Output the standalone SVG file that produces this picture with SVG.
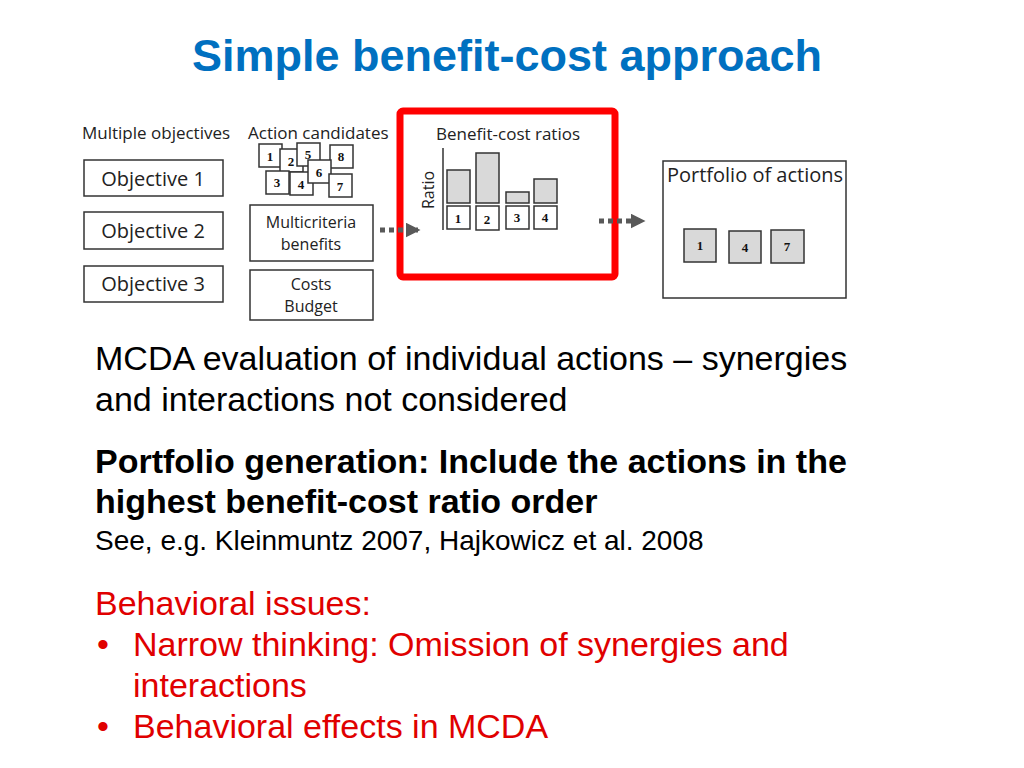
<svg xmlns="http://www.w3.org/2000/svg" width="1024" height="768" viewBox="0 0 1024 768">
<style>
.b{fill:#fff;stroke:#333;stroke-width:1.5}
.g{fill:#d9d9d9;stroke:#333;stroke-width:1.5}
.c{font-family:"Open Sans","Liberation Sans",sans-serif;fill:#222}
.n{font-family:"Liberation Serif",serif;font-weight:bold;font-size:13px;fill:#111;text-anchor:middle}
.t{font-family:"Liberation Sans",Arial,sans-serif;font-size:34px;fill:#000}
.r{fill:#e00000}
</style>
<defs><marker id="ah" markerWidth="3" markerHeight="3" refX="2.5" refY="1.5" orient="auto"><path d="M0,0L3,1.5L0,3z" fill="#595959"/></marker></defs>
<rect width="1024" height="768" fill="#fff"/>
<text x="507" y="71" font-family="Liberation Sans,Arial,sans-serif" font-weight="bold" font-size="45" fill="#0070c0" text-anchor="middle">Simple benefit-cost approach</text>
<g id="objectives">
<text class="c" x="82" y="139" font-size="17">Multiple objectives</text>
<rect class="b" x="84" y="160" width="139" height="36"/><text class="c" x="153" y="186" font-size="20" text-anchor="middle">Objective 1</text>
<rect class="b" x="84" y="212" width="139" height="37"/><text class="c" x="153" y="238" font-size="20" text-anchor="middle">Objective 2</text>
<rect class="b" x="84" y="266" width="139" height="36"/><text class="c" x="153" y="291" font-size="20" text-anchor="middle">Objective 3</text>
</g>
<g id="candidates">
<text class="c" x="248" y="139" font-size="17">Action candidates</text>
<rect class="b" x="259" y="144" width="23" height="23"/><text class="n" x="270" y="161">1</text>
<rect class="b" x="280" y="149" width="23" height="23"/><text class="n" x="291" y="166">2</text>
<rect class="b" x="297" y="143" width="23" height="23"/><text class="n" x="308" y="159">5</text>
<rect class="b" x="330" y="145" width="23" height="23"/><text class="n" x="341" y="161">8</text>
<rect class="b" x="266" y="171" width="23" height="23"/><text class="n" x="277" y="187">3</text>
<rect class="b" x="290" y="172" width="23" height="23"/><text class="n" x="301" y="189">4</text>
<rect class="b" x="308" y="160" width="23" height="23"/><text class="n" x="319" y="177">6</text>
<rect class="b" x="329" y="174" width="23" height="23"/><text class="n" x="340" y="191">7</text>
</g>
<g id="benefits"><rect class="b" x="250" y="205" width="123" height="56"/>
<text class="c" x="311" y="228" font-size="16" text-anchor="middle">Multicriteria</text><text class="c" x="311" y="250" font-size="16" text-anchor="middle">benefits</text></g>
<g id="costs"><rect class="b" x="250" y="270" width="123" height="50"/>
<text class="c" x="311" y="290" font-size="16" text-anchor="middle">Costs</text><text class="c" x="311" y="312" font-size="16" text-anchor="middle">Budget</text></g>
<g id="ratios">
<rect x="400" y="111" width="215" height="166" rx="3" fill="none" stroke="#f00" stroke-width="7"/>
<text class="c" x="508" y="140" font-size="17" text-anchor="middle">Benefit-cost ratios</text>
<line x1="443" y1="148" x2="443" y2="230" stroke="#333" stroke-width="1.5"/>
<text class="c" x="0" y="0" font-size="16" text-anchor="middle" transform="translate(434,190) rotate(-90)">Ratio</text>
<rect class="g" x="447" y="170" width="23" height="33"/><rect class="g" x="476" y="153" width="23" height="50"/>
<rect class="g" x="506" y="192" width="23" height="11"/><rect class="g" x="534" y="179" width="23" height="24"/>
<rect class="b" x="447" y="206" width="23" height="23"/><text class="n" x="458" y="223">1</text>
<rect class="b" x="476" y="206" width="23" height="24"/><text class="n" x="487" y="224">2</text>
<rect class="b" x="506" y="206" width="23" height="23"/><text class="n" x="517" y="222">3</text>
<rect class="b" x="534" y="206" width="23" height="23"/><text class="n" x="545" y="222">4</text>
</g>
<g id="portfolio">
<rect class="b" x="663" y="161" width="183" height="137"/>
<text class="c" x="755" y="182" font-size="20" text-anchor="middle">Portfolio of actions</text>
<rect class="g" x="684" y="229" width="32" height="33"/><text class="n" x="700" y="250">1</text>
<rect class="g" x="729" y="231" width="32" height="32"/><text class="n" x="745" y="252">4</text>
<rect class="g" x="771" y="230" width="33" height="33"/><text class="n" x="787" y="251">7</text>
</g>
<g id="connectors" stroke="#595959" stroke-width="5" stroke-dasharray="5,4" fill="none">
<line x1="380" y1="230" x2="418" y2="230" marker-end="url(#ah)"/>
<line x1="599" y1="221" x2="643" y2="221" marker-end="url(#ah)"/>
</g>
<text class="t" x="95" y="370">MCDA evaluation of individual actions – synergies</text>
<text class="t" x="95" y="411">and interactions not considered</text>
<text class="t" x="95" y="473" font-weight="bold">Portfolio generation: Include the actions in the</text>
<text class="t" x="95" y="513" font-weight="bold">highest benefit-cost ratio order</text>
<text class="t" x="95" y="550" style="font-size:28px">See, e.g. Kleinmuntz 2007, Hajkowicz et al. 2008</text>
<text class="t r" x="95" y="615">Behavioral issues:</text>
<text class="t r" x="97" y="656">•</text><text class="t r" x="133" y="656">Narrow thinking: Omission of synergies and</text>
<text class="t r" x="133" y="697">interactions</text>
<text class="t r" x="97" y="738">•</text><text class="t r" x="133" y="738">Behavioral effects in MCDA</text>
</svg>
